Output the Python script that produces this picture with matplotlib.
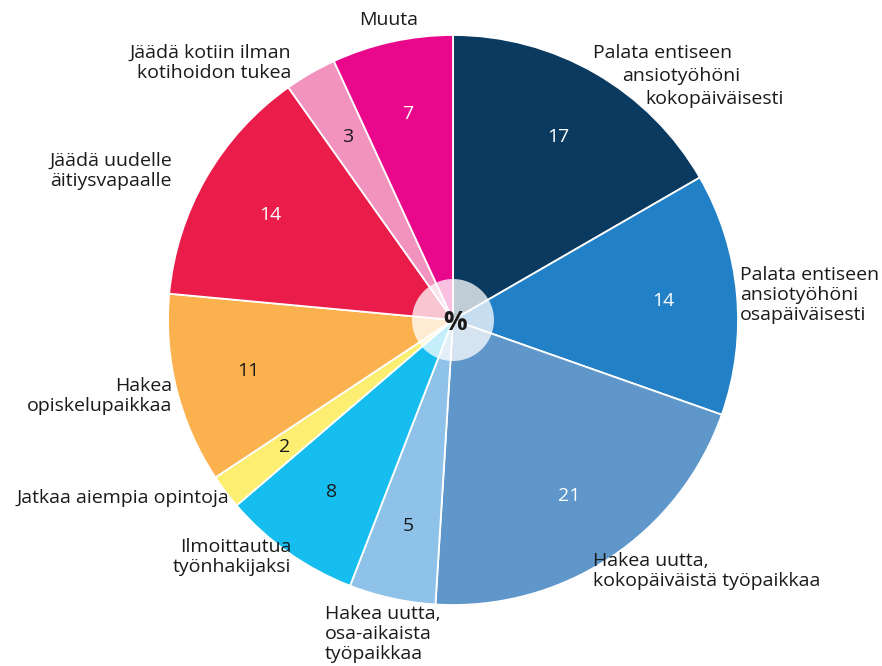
import matplotlib.pyplot as plt
from matplotlib.patches import Circle

plt.rcParams['font.family'] = ['Open Sans', 'DejaVu Sans']

# clockwise from the top
categories = ['Palata entiseen ansiotyöhöni kokopäiväisesti',
              'Palata entiseen ansiotyöhöni osapäiväisesti',
              'Hakea uutta, kokopäiväistä työpaikkaa',
              'Hakea uutta, osa-aikaista työpaikkaa',
              'Ilmoittautua työnhakijaksi',
              'Jatkaa aiempia opintoja',
              'Hakea opiskelupaikkaa',
              'Jäädä uudelle äitiysvapaalle',
              'Jäädä kotiin ilman kotihoidon tukea',
              'Muuta']
values = [17, 14, 21, 5, 8, 2, 11, 14, 3, 7]
colors = ['#0b3a60', '#2280c6', '#5f97cb', '#8ec2e9', '#15beef',
          '#fbee70', '#fbb14e', '#ea1c4a', '#f292bf', '#e9088c']
text_colors = ['white', 'white', 'white', '#1a1a1a', '#1a1a1a',
               '#1a1a1a', '#1a1a1a', 'white', '#1a1a1a', 'white']

W, H = 882, 666
fig = plt.figure(figsize=(W / 100, H / 100), dpi=100)
ax = fig.add_axes([0, 0, 1, 1])

cx, cy, r = 453, H - 320, 285
total = sum(values)
FS = 14

wedges, texts, autotexts = ax.pie(
    values, colors=colors, startangle=90, counterclock=False,
    center=(cx, cy), radius=r, frame=True,
    autopct=lambda p: '%d' % round(p * total / 100), pctdistance=0.74,
    wedgeprops=dict(edgecolor='white', linewidth=1.3),
    textprops=dict(fontsize=FS))
for t, c in zip(autotexts, text_colors):
    t.set_color(c)
ax.set_xlim(0, W)
ax.set_ylim(0, H)
ax.set_aspect('equal')
ax.axis('off')

ax.add_patch(Circle((cx, cy), 41, facecolor='white', alpha=0.75, edgecolor='none', zorder=5))
ax.text(cx + 2, cy - 2, '%', fontsize=19, fontweight='bold', color='#1a1a1a',
        ha='center', va='center', zorder=6)

def lbl(x, y, s, ha='left'):
    ax.text(x, H - y, s, fontsize=FS, color='#1a1a1a', ha=ha, va='center',
            linespacing=1.13)

# staggered lines of the first label
lbl(593, 53, 'Palata entiseen')
lbl(622, 76, 'ansiotyöhöni')
lbl(645, 99, 'kokopäiväisesti')

lbl(740, 295, 'Palata entiseen\nansiotyöhöni\nosapäiväisesti')
lbl(593, 571, 'Hakea uutta,\nkokopäiväistä työpaikkaa')
lbl(325, 634, 'Hakea uutta,\nosa-aikaista\ntyöpaikkaa')
lbl(291, 557, 'Ilmoittautua\ntyönhakijaksi', ha='right')
lbl(229, 498, 'Jatkaa aiempia opintoja', ha='right')
lbl(172, 396, 'Hakea\nopiskelupaikkaa', ha='right')
lbl(172, 171, 'Jäädä uudelle\näitiysvapaalle', ha='right')
lbl(291, 63, 'Jäädä kotiin ilman\nkotihoidon tukea', ha='right')
lbl(389, 20, 'Muuta', ha='center')

fig.savefig('out.png', dpi=100)
